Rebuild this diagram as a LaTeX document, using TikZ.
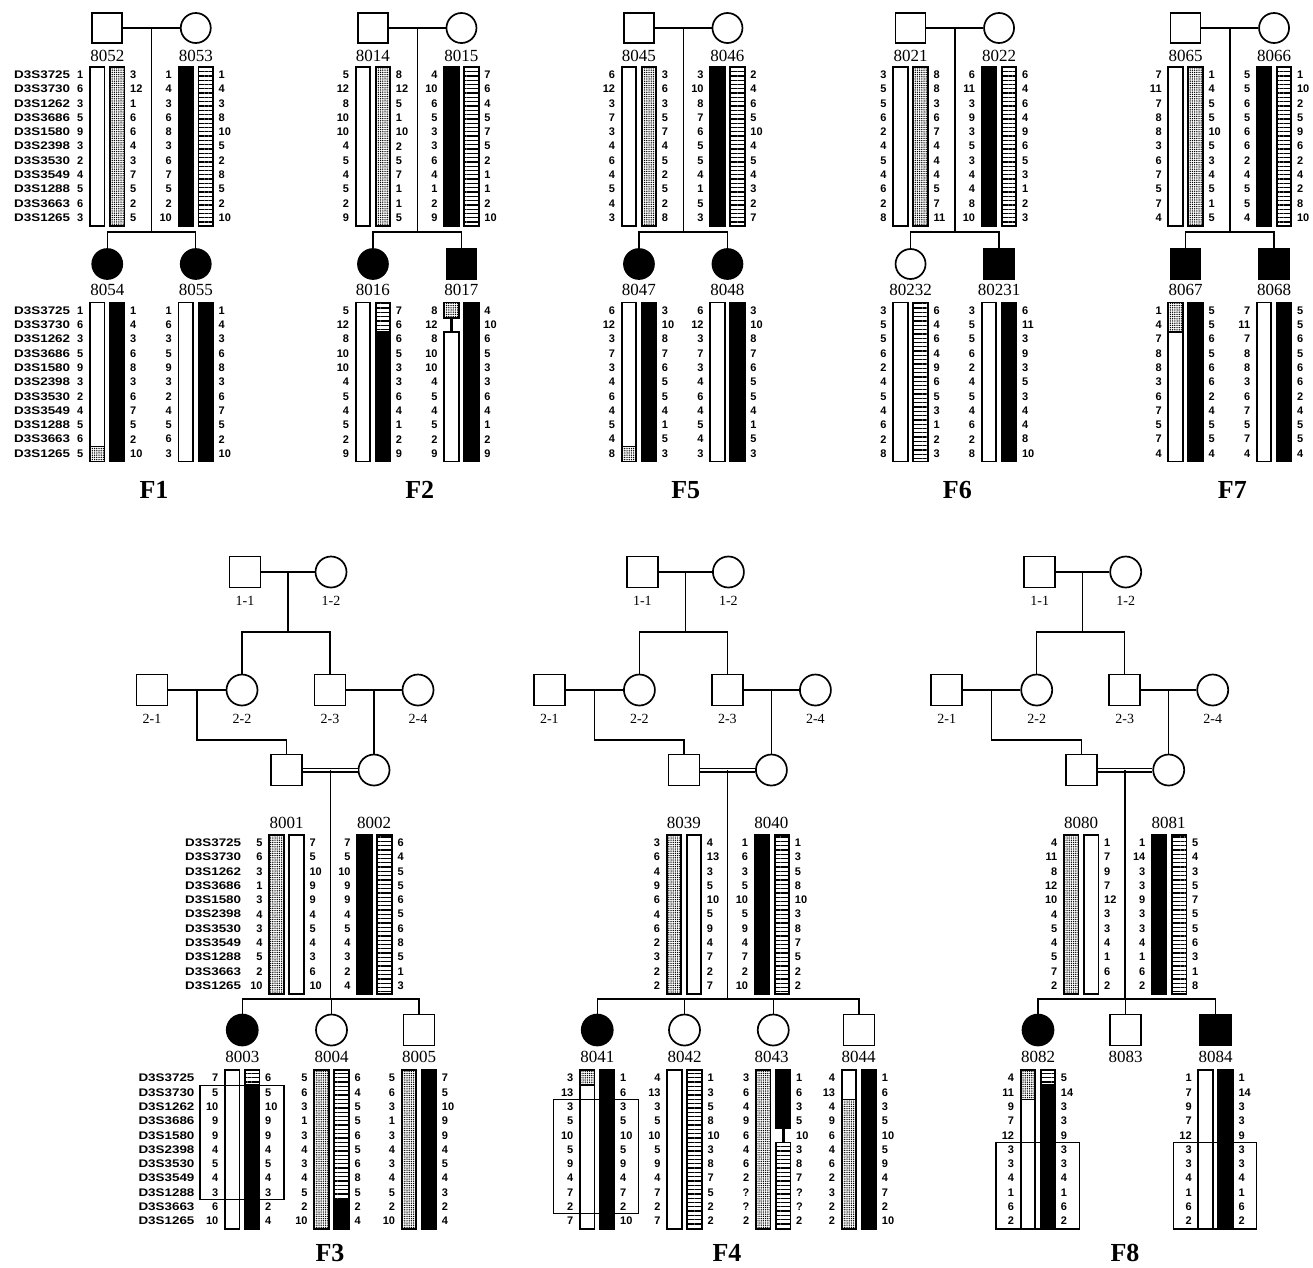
\documentclass[tikz,border=0pt]{standalone}
\usepackage{fontspec}
\setmainfont{Liberation Serif}
\newfontfamily\numf{Liberation Sans}
\newfontfamily\mkf[FakeStretch=1.22]{Liberation Sans}
\usetikzlibrary{calc,patterns.meta}

\tikzset{
 ped/.style={line width=1.4pt},
 sym/.style={draw, line width=1.7pt, fill=white, inner sep=0pt, minimum size=30pt},
 osq/.style={sym, rectangle},
 fsq/.style={sym, rectangle, fill=black},
 oci/.style={sym, circle},
 fci/.style={sym, circle, fill=black},
 idl/.style={font=\fontsize{17}{17}\selectfont, inner sep=0pt},
 gl/.style={font=\fontsize{14}{14}\selectfont, inner sep=0pt},
 fam/.style={font=\bfseries\fontsize{26}{26}\selectfont, inner sep=0pt},
 num/.style={font=\numf\bfseries\fontsize{11}{12}\selectfont, inner sep=0pt},
 mk/.style={font=\mkf\bfseries\fontsize{11}{12}\selectfont, inner sep=0pt, anchor=west},
 W/.style={draw, line width=1.7pt, fill=white},
 D/.style={draw, line width=1.7pt, pattern={Dots[radius=0.75pt, distance=2.2pt]}},
 K/.style={draw, line width=1.7pt, fill=black},
 H/.style={draw, line width=1.7pt, pattern={Lines[angle=0, distance=4.3pt, line width=1.3pt]}},
 abox/.style={draw, line width=1.3pt},
}
\def\stemname{stem}
\newcommand{\hapbar}[3]{%
 \foreach \st/\ra/\rb in {#3}{%
   \pgfmathsetmacro\yt{\ra==1 ? #2-8 : #2+(\ra-1.5)*14.3}%
   \pgfmathsetmacro\yb{\rb==11 ? #2+151 : #2+(\rb-0.5)*14.3}%
   \ifx\st\stemname
     \fill (#1+5.75,\yt) rectangle (#1+8.75,\yb);
   \else
     \edef\dopath{\noexpand\path[\st]}%
     \dopath (#1,\yt) rectangle (#1+14.5,\yb);
   \fi
 }}
\newcommand{\nums}[5]{%
 \foreach \v [count=\i] in {#5}
   \node[num, anchor=#4] (#1-\i) at (#2, #3+\i*14.3-14.3) {\v};}
\newcommand{\indiv}[7]{%
 \hapbar{#2}{#3}{#6}%
 \hapbar{#2+20}{#3}{#7}%
 \nums{#1l}{#2-6.5}{#3}{east}{#4}%
 \nums{#1r}{#2+40}{#3}{west}{#5}}
\newcommand{\markers}[3]{%
 \foreach \m [count=\i] in {D3S3725,D3S3730,D3S1262,D3S3686,D3S1580,D3S2398,D3S3530,D3S3549,D3S1288,D3S3663,D3S1265}
  \node[mk] (#1-\i) at (#2, #3+\i*14.3-14.3) {\m};}
% top-row family: X0, label, father, mother, child1 style, child1, child2 style, child2
\newcommand{\topped}[8]{%
 \node[osq] (s#3) at (#1+17.25,28) {};
 \node[oci] (s#4) at (#1+105.75,28) {};
 \draw[ped] (s#3.east) -- (s#4.west);
 \coordinate (m#3) at ($(s#3.east)!.5!(s#4.west)$);
 \coordinate (j#3) at ([yshift=-204pt]m#3);
 \draw[ped] (m#3) -- (j#3);
 \node[#5] (s#6) at (#1+17.25,264) {};
 \node[#7] (s#8) at (#1+105.75,264) {};
 \draw[ped] (s#6.north) |- (j#3) -| (s#8.north);
 \node[idl] (l#3) at (#1+17.25,56) {#3};
 \node[idl] (l#4) at (#1+105.75,56) {#4};
 \node[idl] (l#6) at (#1+17.25,290) {#6};
 \node[idl] (l#8) at (#1+105.75,290) {#8};
 \node[fam] (f#2) at (#1+64,490) {#2};
}
% bottom-row upper pedigree: shift, prefix, father, mother
\newcommand{\upperped}[4]{%
\begin{scope}[xshift=#1pt]
 \node[osq, minimum size=31pt] (#2a) at (245,572) {};
 \node[oci, minimum size=31pt] (#2b) at (331,572) {};
 \draw[ped] (#2a.east) -- (#2b.west);
 \coordinate (#2m1) at ($(#2a.east)!.5!(#2b.west)$);
 \coordinate (#2j1) at ([yshift=-60pt]#2m1);
 \draw[ped] (#2m1) -- (#2j1);
 \node[osq, minimum size=31pt] (#2c) at (152,690) {};
 \node[oci, minimum size=31pt] (#2d) at (242,690) {};
 \node[osq, minimum size=31pt] (#2e) at (330,690) {};
 \node[oci, minimum size=31pt] (#2f) at (418,690) {};
 \draw[ped] (#2d.north) |- (#2j1) -| (#2e.north);
 \draw[ped] (#2c.east) -- (#2d.west);
 \draw[ped] (#2e.east) -- (#2f.west);
 \coordinate (#2m2) at ($(#2c.east)!.5!(#2d.west)$);
 \coordinate (#2m3) at ($(#2e.east)!.5!(#2f.west)$);
 \node[osq, minimum size=31pt] (s#3) at (286.5,770) {};
 \node[oci, minimum size=31pt] (s#4) at (374,770) {};
 \draw[ped] (#2m2) -- ++(0,50) -| (s#3.north);
 \draw[ped] (#2m3) -- (#2m3 |- s#4.north);
 \draw[line width=1.2pt, double, double distance=2.6pt] (s#3.east) -- (s#4.west);
 \coordinate (m#3) at ($(s#3.east)!.5!(s#4.west)$);
 \coordinate (j#3) at ([yshift=-229pt]m#3);
 \draw[ped] (m#3) -- (j#3);
 \node[gl] (#2la) at (245,601) {1-1};
 \node[gl] (#2lb) at (331,601) {1-2};
 \node[gl] (#2lc) at (152,719) {2-1};
 \node[gl] (#2ld) at (242,719) {2-2};
 \node[gl] (#2le) at (330,719) {2-3};
 \node[gl] (#2lf) at (418,719) {2-4};
 \node[idl] (l#3) at (286.5,822.7) {#3};
 \node[idl] (l#4) at (374,822.7) {#4};
\end{scope}}

\begin{document}
\begin{tikzpicture}[x=1pt,y=-1pt]
\fill[white] (0,0) rectangle (1313,1267);
\useasboundingbox (0,0) rectangle (1313,1267);

% ================= F1 =================
\topped{90}{F1}{8052}{8053}{fci}{8054}{fci}{8055}
\markers{mkA}{14}{74.7}
\markers{mkB}{14}{310.5}
\indiv{8052}{90}{74.7}{1,6,3,5,9,3,2,4,5,6,3}{3,12,1,6,6,4,3,7,5,2,5}{W/1/11}{D/1/11}
\indiv{8053}{178.5}{74.7}{1,4,3,6,8,3,6,7,5,2,10}{1,4,3,8,10,5,2,8,5,2,10}{K/1/11}{H/1/11}
\indiv{8054}{90}{310.5}{1,6,3,5,9,3,2,4,5,6,5}{1,4,3,6,8,3,6,7,5,2,10}{W/1/10,D/11/11}{K/1/11}
\indiv{8055}{178.5}{310.5}{1,6,3,5,9,3,2,4,5,6,3}{1,4,3,6,8,3,6,7,5,2,10}{W/1/11}{K/1/11}

% ================= F2 =================
\topped{355.7}{F2}{8014}{8015}{fci}{8016}{fsq}{8017}
\indiv{8014}{355.7}{74.7}{5,12,8,10,10,4,5,4,5,2,9}{8,12,5,1,10,2,5,7,1,1,5}{W/1/11}{D/1/11}
\indiv{8015}{444.2}{74.7}{4,10,6,5,3,3,6,4,1,2,9}{7,6,4,5,7,5,2,1,1,2,10}{K/1/11}{H/1/11}
\indiv{8016}{355.7}{310.5}{5,12,8,10,10,4,5,4,5,2,9}{7,6,6,5,3,3,6,4,1,2,9}{W/1/11}{H/1/2,K/3/11}
\indiv{8017}{444.2}{310.5}{8,12,8,10,10,4,5,4,5,2,9}{4,10,6,5,3,3,6,4,1,2,9}{D/1/1,stem/2/2,W/3/11}{K/1/11}

% ================= F5 =================
\topped{621.7}{F5}{8045}{8046}{fci}{8047}{fci}{8048}
\indiv{8045}{621.7}{74.7}{6,12,3,7,3,4,6,4,5,4,3}{3,6,3,5,7,4,5,2,5,2,8}{W/1/11}{D/1/11}
\indiv{8046}{710.2}{74.7}{3,10,8,7,6,5,5,4,1,5,3}{2,4,6,5,10,4,5,4,3,2,7}{K/1/11}{H/1/11}
\indiv{8047}{621.7}{310.5}{6,12,3,7,3,4,6,4,5,4,8}{3,10,8,7,6,5,5,4,1,5,3}{W/1/10,D/11/11}{K/1/11}
\indiv{8048}{710.2}{310.5}{6,12,3,7,3,4,6,4,5,4,3}{3,10,8,7,6,5,5,4,1,5,3}{W/1/11}{K/1/11}

% ================= F6 =================
\topped{893.3}{F6}{8021}{8022}{oci}{80232}{fsq}{80231}
\indiv{8021}{893.3}{74.7}{3,5,5,6,2,4,5,4,6,2,8}{8,8,3,6,7,4,4,4,5,7,11}{W/1/11}{D/1/11}
\indiv{8022}{981.8}{74.7}{6,11,3,9,3,5,3,4,4,8,10}{6,4,6,4,9,6,5,3,1,2,3}{K/1/11}{H/1/11}
\indiv{80232}{893.3}{310.5}{3,5,5,6,2,4,5,4,6,2,8}{6,4,6,4,9,6,5,3,1,2,3}{W/1/11}{H/1/11}
\indiv{80231}{981.8}{310.5}{3,5,5,6,2,4,5,4,6,2,8}{6,11,3,9,3,5,3,4,4,8,10}{W/1/11}{K/1/11}

% ================= F7 =================
\topped{1168.3}{F7}{8065}{8066}{fsq}{8067}{fsq}{8068}
\indiv{8065}{1168.3}{74.7}{7,11,7,8,8,3,6,7,5,7,4}{1,4,5,5,10,5,3,4,5,1,5}{W/1/11}{D/1/11}
\indiv{8066}{1256.8}{74.7}{5,5,6,5,6,6,2,4,5,5,4}{1,10,2,5,9,6,2,4,2,8,10}{K/1/11}{H/1/11}
\indiv{8067}{1168.3}{310.5}{1,4,7,8,8,3,6,7,5,7,4}{5,5,6,5,6,6,2,4,5,5,4}{D/1/2,W/3/11}{K/1/11}
\indiv{8068}{1256.8}{310.5}{7,11,7,8,8,3,6,7,5,7,4}{5,5,6,5,6,6,2,4,5,5,4}{W/1/11}{K/1/11}

% ================= F3 =================
\upperped{0}{pA}{8001}{8002}
\markers{mkC}{185}{842.7}
\markers{mkD}{138.3}{1078}
\indiv{8001}{269.3}{842.7}{5,6,3,1,3,4,3,4,5,2,10}{7,5,10,9,9,4,5,4,3,6,10}{D/1/11}{W/1/11}
\indiv{8002}{357.3}{842.7}{7,5,10,9,9,4,5,4,3,2,4}{6,4,5,5,6,5,6,8,5,1,3}{K/1/11}{H/1/11}
\node[fci, minimum size=31pt] (s8003) at (242.25,1030) {};
\node[oci, minimum size=31pt] (s8004) at (331.5,1030) {};
\node[osq, minimum size=31pt] (s8005) at (419,1030) {};
\draw[ped] (s8003.north) |- (j8001) -| (s8005.north);
\draw[ped] (s8004.north) -- (s8004.north |- j8001);
\node[idl] (l8003) at (242.25,1057) {8003};
\node[idl] (l8004) at (331.5,1057) {8004};
\node[idl] (l8005) at (419,1057) {8005};
\indiv{8003}{225}{1078}{7,5,10,9,9,4,5,4,3,6,10}{6,5,10,9,9,4,5,4,3,2,4}{W/1/11}{H/1/1,K/2/11}
\indiv{8004}{314.3}{1078}{5,6,3,1,3,4,3,4,5,2,10}{6,4,5,5,6,5,6,8,5,2,4}{D/1/11}{H/1/9,K/10/11}
\indiv{8005}{401.7}{1078}{5,6,3,1,3,4,3,4,5,2,10}{7,5,10,9,9,4,5,4,3,2,4}{D/1/11}{K/1/11}
\draw[abox] (200,1085.2) rectangle (284,1199.5);
\node[fam] (fF3) at (330,1253) {F3};

% ================= F4 =================
\upperped{397.4}{pB}{8039}{8040}
\indiv{8039}{666.7}{842.7}{3,6,4,9,6,4,6,2,3,2,2}{4,13,3,5,10,5,9,4,7,2,7}{D/1/11}{W/1/11}
\indiv{8040}{754.7}{842.7}{1,6,3,5,10,5,9,4,7,2,10}{1,3,5,8,10,3,8,7,5,2,2}{K/1/11}{H/1/11}
\node[fci, minimum size=31pt] (s8041) at (597.25,1030) {};
\node[oci, minimum size=31pt] (s8042) at (684.5,1030) {};
\node[oci, minimum size=31pt] (s8043) at (773.25,1030) {};
\node[osq, minimum size=31pt] (s8044) at (859,1030) {};
\draw[ped] (s8041.north) |- (j8039) -| (s8044.north);
\draw[ped] (s8042.north) -- (s8042.north |- j8039);
\draw[ped] (s8043.north) -- (s8043.north |- j8039);
\node[idl] (l8041) at (597.25,1057) {8041};
\node[idl] (l8042) at (684.5,1057) {8042};
\node[idl] (l8043) at (771.7,1057) {8043};
\node[idl] (l8044) at (858.5,1057) {8044};
\indiv{8041}{580}{1078}{3,13,3,5,10,5,9,4,7,2,7}{1,6,3,5,10,5,9,4,7,2,10}{D/1/1,W/2/11}{K/1/11}
\indiv{8042}{667.3}{1078}{4,13,3,5,10,5,9,4,7,2,7}{1,3,5,8,10,3,8,7,5,2,2}{W/1/11}{H/1/11}
\indiv{8043}{756}{1078}{3,6,4,9,6,4,6,2,?,?,2}{1,6,3,5,10,3,8,7,?,?,2}{D/1/11}{K/1/4,stem/5/5,H/6/11}
\indiv{8044}{841.7}{1078}{4,13,4,9,6,4,6,2,3,2,2}{1,6,3,5,10,5,9,4,7,2,10}{W/1/2,D/3/11}{K/1/11}
\draw[abox] (553.3,1099.5) rectangle (638.7,1213.8);
\node[fam] (fF4) at (727,1253) {F4};

% ================= F8 =================
\upperped{794.7}{pC}{8080}{8081}
\indiv{8080}{1064}{842.7}{4,11,8,12,10,4,5,4,5,7,2}{1,7,9,7,12,3,3,4,1,6,2}{D/1/11}{W/1/11}
\indiv{8081}{1152}{842.7}{1,14,3,3,9,3,3,4,1,6,2}{5,4,3,5,7,5,5,6,3,1,8}{K/1/11}{H/1/11}
\node[fci, minimum size=31pt] (s8082) at (1038,1030) {};
\node[osq, minimum size=31pt] (s8083) at (1125.2,1030) {};
\node[fsq, minimum size=31pt] (s8084) at (1215.5,1030) {};
\draw[ped] (s8082.north) |- (j8080) -| (s8084.north);
\draw[ped] (s8083.north) -- (s8083.north |- j8080);
\node[idl] (l8082) at (1038,1057) {8082};
\node[idl] (l8083) at (1125.7,1057) {8083};
\node[idl] (l8084) at (1215.5,1057) {8084};
\indiv{8082}{1020.7}{1078}{4,11,9,7,12,3,3,4,1,6,2}{5,14,3,3,9,3,3,4,1,6,2}{D/1/2,W/3/11}{H/1/1,K/2/11}
\indiv{8084}{1198.3}{1078}{1,7,9,7,12,3,3,4,1,6,2}{1,14,3,3,9,3,3,4,1,6,2}{W/1/11}{K/1/11}
\draw[abox] (996,1142.4) rectangle (1079.3,1229);
\draw[abox] (1173.3,1142.4) rectangle (1256.7,1229);
\node[fam] (fF8) at (1125,1253) {F8};
\end{tikzpicture}
\end{document}
